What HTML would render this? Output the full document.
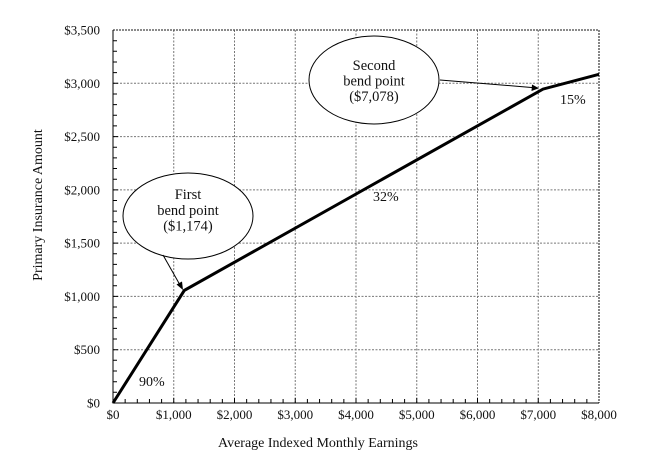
<!DOCTYPE html>
<html><head><meta charset="utf-8"><style>
html,body{margin:0;padding:0;background:#fff;}
svg{display:block;font-family:"Liberation Serif","DejaVu Serif",serif;}
svg text{font-family:"Liberation Serif","DejaVu Serif",serif;fill:#111;}
</style></head><body>
<svg width="648" height="461" viewBox="0 0 648 461" xmlns="http://www.w3.org/2000/svg" font-family="Liberation Serif, DejaVu Serif, serif">
<rect width="648" height="461" fill="#fff"/>
<g stroke="#777" stroke-width="1" stroke-dasharray="2,1.5" fill="none">
<line x1="173.75" y1="30" x2="173.75" y2="403"/>
<line x1="234.5" y1="30" x2="234.5" y2="403"/>
<line x1="295.25" y1="30" x2="295.25" y2="403"/>
<line x1="356" y1="30" x2="356" y2="403"/>
<line x1="416.75" y1="30" x2="416.75" y2="403"/>
<line x1="477.5" y1="30" x2="477.5" y2="403"/>
<line x1="538.25" y1="30" x2="538.25" y2="403"/>
<line x1="113" y1="349.7" x2="599" y2="349.7"/>
<line x1="113" y1="296.4" x2="599" y2="296.4"/>
<line x1="113" y1="243.1" x2="599" y2="243.1"/>
<line x1="113" y1="189.9" x2="599" y2="189.9"/>
<line x1="113" y1="136.6" x2="599" y2="136.6"/>
<line x1="113" y1="83.3" x2="599" y2="83.3"/>
</g>
<g stroke="#444" stroke-width="1.3" stroke-dasharray="2,1" fill="none">
<line x1="113" y1="30" x2="599" y2="30"/>
<line x1="599" y1="30" x2="599" y2="403"/>
</g>
<g stroke="#000" stroke-width="1" fill="none">
<line x1="113" y1="30" x2="113" y2="403.5"/>
<line x1="112.5" y1="403" x2="599" y2="403"/>
</g>
<g stroke="#000" stroke-width="1">
<path d="M125.15 403v-4M137.3 403v-4M149.45 403v-4M161.6 403v-4M173.75 403v-5M185.9 403v-4M198.05 403v-4M210.2 403v-4M222.35 403v-4M234.5 403v-5M246.65 403v-4M258.8 403v-4M270.95 403v-4M283.1 403v-4M295.25 403v-5M307.4 403v-4M319.55 403v-4M331.7 403v-4M343.85 403v-4M356 403v-5M368.15 403v-4M380.3 403v-4M392.45 403v-4M404.6 403v-4M416.75 403v-5M428.9 403v-4M441.05 403v-4M453.2 403v-4M465.35 403v-4M477.5 403v-5M489.65 403v-4M501.8 403v-4M513.95 403v-4M526.1 403v-4M538.25 403v-5M550.4 403v-4M562.55 403v-4M574.7 403v-4M586.85 403v-4"/>
<path d="M113 392.3h4M113 381.7h4M113 371h4M113 360.3h4M113 349.7h5M113 339h4M113 328.4h4M113 317.7h4M113 307h4M113 296.4h5M113 285.7h4M113 275.1h4M113 264.4h4M113 253.7h4M113 243.1h5M113 232.4h4M113 221.8h4M113 211.1h4M113 200.5h4M113 189.9h5M113 179.2h4M113 168.5h4M113 157.9h4M113 147.2h4M113 136.6h5M113 125.9h4M113 115.3h4M113 104.6h4M113 94h4M113 83.3h5M113 72.6h4M113 62h4M113 51.3h4M113 40.7h4"/>
</g>
<g font-size="13" text-anchor="end" font-family="Liberation Serif, serif">
<text x="100" y="407.5">$0</text>
<text x="100" y="354">$500</text>
<text x="100" y="301">$1,000</text>
<text x="100" y="247.5">$1,500</text>
<text x="100" y="194.5">$2,000</text>
<text x="100" y="141">$2,500</text>
<text x="100" y="88">$3,000</text>
<text x="100" y="34.5">$3,500</text>
</g>
<g font-size="13" text-anchor="middle" font-family="Liberation Serif, serif">
<text x="113" y="419">$0</text>
<text x="173.75" y="419">$1,000</text>
<text x="234.5" y="419">$2,000</text>
<text x="295.25" y="419">$3,000</text>
<text x="356" y="419">$4,000</text>
<text x="416.75" y="419">$5,000</text>
<text x="477.5" y="419">$6,000</text>
<text x="538.25" y="419">$7,000</text>
<text x="599" y="419">$8,000</text>
</g>
<text x="318" y="447" font-size="14" text-anchor="middle" font-family="Liberation Serif, serif">Average Indexed Monthly Earnings</text>
<text x="0" y="0" font-size="14" text-anchor="middle" font-family="Liberation Serif, serif" transform="translate(42 205) rotate(-90)">Primary Insurance Amount</text>
<polyline points="113,403 184.3,290.4 543,89.1 599,74.3" fill="none" stroke="#000" stroke-width="3" stroke-linejoin="miter"/>
<ellipse cx="188" cy="216" rx="65" ry="43" fill="#fff" stroke="#000" stroke-width="1"/>
<ellipse cx="374" cy="80" rx="65" ry="44" fill="#fff" stroke="#000" stroke-width="1"/>
<g stroke="#000" stroke-width="1">
<line x1="163" y1="255" x2="180" y2="285"/>
<line x1="440" y1="80" x2="533" y2="87.6"/>
</g>
<polygon points="183,290 176.5,284.5 182,281.5" fill="#000"/>
<polygon points="539,88.2 532,84.5 531.5,91" fill="#000"/>
<g font-size="14.5" text-anchor="middle" font-family="Liberation Serif, serif">
<text x="188" y="199">First</text>
<text x="188" y="215">bend point</text>
<text x="188" y="230.5">($1,174)</text>
<text x="374" y="70">Second</text>
<text x="374" y="85.5">bend point</text>
<text x="374" y="101">($7,078)</text>
</g>
<g font-size="14" font-family="Liberation Serif, serif">
<text x="139" y="386">90%</text>
<text x="373" y="201">32%</text>
<text x="560" y="104">15%</text>
</g>
</svg>
</body></html>
